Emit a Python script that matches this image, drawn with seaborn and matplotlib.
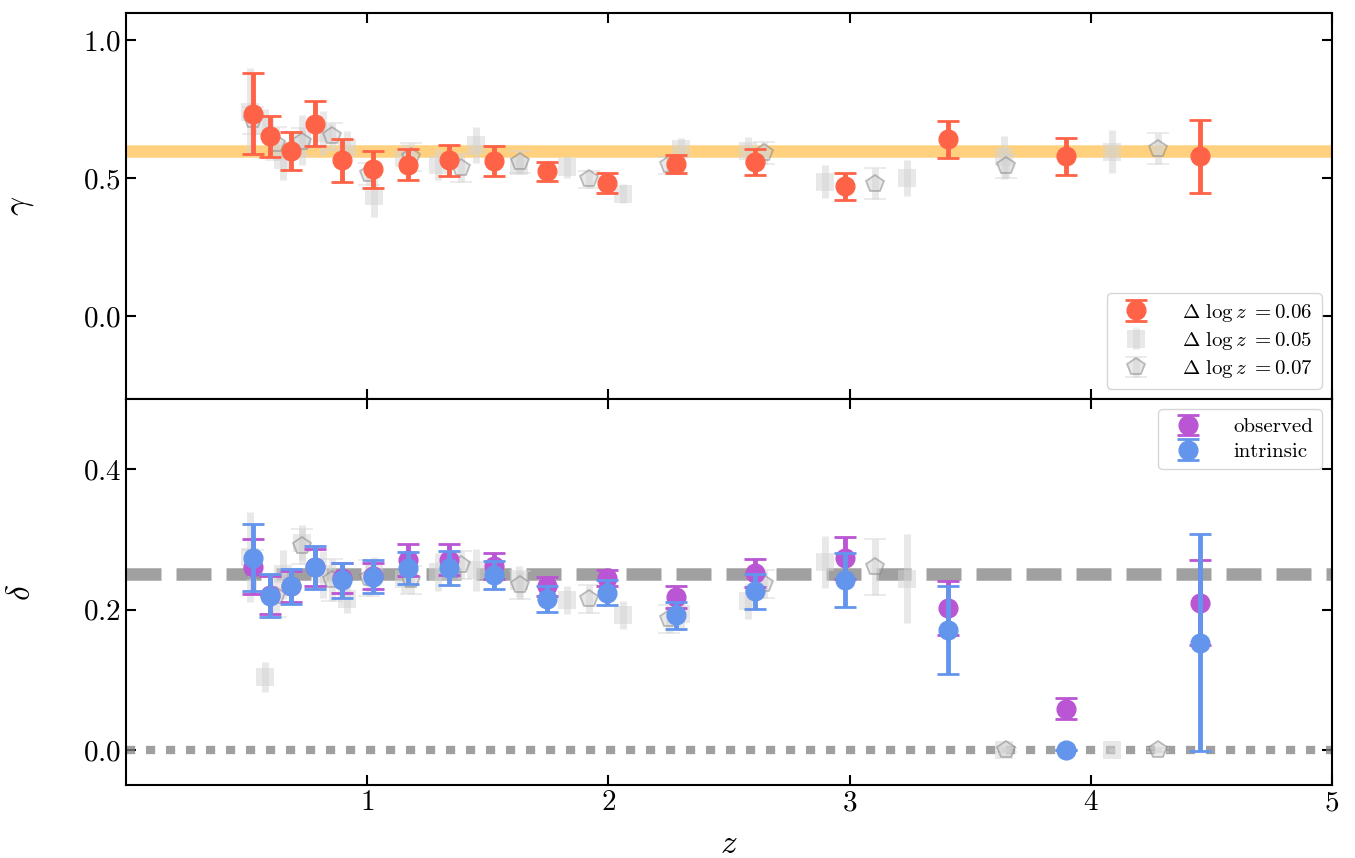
"""
gamma / delta vs redshift, two stacked panels sharing z.
"""
import matplotlib
matplotlib.use("Agg")
import matplotlib.pyplot as plt
import seaborn as sns

# --- Delta log z = 0.06 (main binning) ---
z_06 = [0.526, 0.597, 0.684, 0.783, 0.895, 1.024, 1.169, 1.339, 1.525,
        1.745, 1.993, 2.279, 2.607, 2.980, 3.407, 3.896, 4.451]
gamma_06 = [0.735, 0.652, 0.599, 0.698, 0.565, 0.533, 0.550, 0.565, 0.562,
            0.525, 0.483, 0.551, 0.559, 0.471, 0.641, 0.580, 0.580]
gamma_06_err = [0.148, 0.074, 0.068, 0.082, 0.078, 0.067, 0.055, 0.055, 0.054,
                0.035, 0.037, 0.033, 0.046, 0.050, 0.068, 0.068, 0.133]
delta_obs = [0.261, 0.221, 0.233, 0.260, 0.245, 0.248, 0.271, 0.271, 0.262,
             0.233, 0.245, 0.218, 0.252, 0.273, 0.202, 0.059, 0.210]
delta_obs_err = [0.039, 0.027, 0.022, 0.026, 0.022, 0.018, 0.023, 0.022, 0.018,
                 0.013, 0.011, 0.016, 0.020, 0.030, 0.038, 0.015, 0.060]
delta_int = [0.274, 0.220, 0.233, 0.260, 0.242, 0.247, 0.259, 0.259, 0.249,
             0.215, 0.224, 0.192, 0.226, 0.242, 0.171, 0.0, 0.153]
delta_int_err = [0.048, 0.031, 0.025, 0.030, 0.025, 0.023, 0.023, 0.024, 0.020,
                 0.018, 0.018, 0.019, 0.025, 0.038, 0.063, 0.0, 0.154]

# --- Delta log z = 0.05 (grey squares) ---
z_05 = [0.515, 0.578, 0.649, 0.728, 0.817, 0.916, 1.028, 1.153, 1.294, 1.45,
        1.63, 1.83, 2.06, 2.30, 2.58, 2.90, 3.24, 3.64, 4.09]
gamma_05 = [0.74, 0.69, 0.565, 0.64, 0.665, 0.61, 0.435, 0.575, 0.55, 0.62,
            0.545, 0.54, 0.445, 0.605, 0.60, 0.488, 0.50, 0.577, 0.596]
gamma_05_err = [0.16, 0.06, 0.07, 0.09, 0.08, 0.06, 0.075, 0.05, 0.055, 0.066,
                0.03, 0.04, 0.035, 0.04, 0.05, 0.06, 0.065, 0.078, 0.078]
delta_05 = [0.275, 0.104, 0.25, 0.295, 0.25, 0.215, 0.25, 0.243, 0.254, 0.256,
            0.24, 0.213, 0.192, 0.193, 0.212, 0.268, 0.244, 0.0, 0.0]
delta_05_err = [0.064, 0.022, 0.035, 0.025, 0.034, 0.02, 0.025, 0.02, 0.027, 0.03,
                0.022, 0.02, 0.02, 0.022, 0.026, 0.037, 0.063, 0.003, 0.003]

# --- Delta log z = 0.07 (grey pentagons) ---
z_07 = [0.528, 0.620, 0.729, 0.856, 1.006, 1.180, 1.388, 1.633, 1.919,
        2.250, 2.644, 3.104, 3.647, 4.277]
gamma_07 = [0.71, 0.626, 0.632, 0.652, 0.517, 0.578, 0.538, 0.559, 0.496,
            0.547, 0.592, 0.481, 0.543, 0.607]
gamma_07_err = [0.05, 0.06, 0.05, 0.05, 0.04, 0.05, 0.05, 0.04, 0.03,
                0.03, 0.04, 0.055, 0.04, 0.056]
delta_07 = [0.255, 0.22, 0.29, 0.242, 0.245, 0.242, 0.264, 0.235, 0.215,
            0.186, 0.237, 0.261, 0.0, 0.0]
delta_07_err = [0.03, 0.03, 0.025, 0.03, 0.025, 0.02, 0.02, 0.02, 0.02,
                0.02, 0.02, 0.04, 0.003, 0.003]

GAMMA_REF = 0.6
DELTA_REF = 0.25

LABELS = [r"$\Delta\ \log z\ = 0.06$", r"$\Delta\ \log z\ = 0.05$",
          r"$\Delta\ \log z\ = 0.07$"]

sns.set_theme(style="ticks")
plt.rcParams.update({
    "font.family": "serif",
    "font.serif": ["cmr10", "DejaVu Serif"],
    "mathtext.fontset": "cm",
    "axes.formatter.use_mathtext": True,
    "axes.linewidth": 1.5,
    "axes.edgecolor": "black",
    "text.color": "black",
    "axes.labelcolor": "black",
    "xtick.color": "black", "ytick.color": "black",
    "xtick.direction": "in", "ytick.direction": "in",
    "xtick.top": True, "ytick.right": True,
    "xtick.major.size": 7, "ytick.major.size": 7,
    "xtick.major.width": 1.5, "ytick.major.width": 1.5,
    "xtick.labelsize": 21, "ytick.labelsize": 21,
    "axes.labelsize": 24,
    "legend.fontsize": 15,
})

GREY_KW = dict(color="lightgrey", alpha=0.5, elinewidth=5, capsize=8,
               capthick=2, linestyle="none")


def grey_sets(ax, y05, e05, y07, e07):
    ax.errorbar(z_05, y05, yerr=e05, fmt="s", ms=13, mew=0, zorder=2,
                label=LABELS[1], **GREY_KW)
    ax.errorbar(z_07, y07, yerr=e07, fmt="p", ms=13, mfc="lightgrey",
                mec="grey", mew=1.3, zorder=2, label=LABELS[2], **GREY_KW)


fig, (ax1, ax2) = plt.subplots(2, 1, sharex=True, figsize=(13.55, 8.58), dpi=100)
fig.subplots_adjust(left=0.093, right=0.983, top=0.985, bottom=0.085, hspace=0)

# top panel: gamma
ax1.axhline(GAMMA_REF, color="orange", alpha=0.5, lw=9, zorder=1)
ax1.errorbar(z_06, gamma_06, yerr=gamma_06_err, fmt="o", color="tomato",
             ms=13.5, elinewidth=3.5, capsize=8, capthick=2, zorder=4,
             label=LABELS[0])
grey_sets(ax1, gamma_05, gamma_05_err, gamma_07, gamma_07_err)
ax1.set_ylim(-0.3, 1.1)
ax1.set_yticks([0.0, 0.5, 1.0])
ax1.set_ylabel(r"$\gamma$", labelpad=34)
ax1.legend(loc="lower right", handletextpad=1.2, borderpad=0.4,
           labelspacing=0.3, borderaxespad=0.5)

# bottom panel: delta
ax2.axhline(DELTA_REF, color="grey", alpha=0.75, lw=9, zorder=1,
            linestyle=(0, (2.8, 1.2)))
ax2.axhline(0.0, color="grey", alpha=0.75, lw=6, zorder=1,
            linestyle=(0, (1.1, 1.3)))
grey_sets(ax2, delta_05, delta_05_err, delta_07, delta_07_err)
ax2.errorbar(z_06, delta_obs, yerr=delta_obs_err, fmt="o",
             color="mediumorchid", ms=13.5, elinewidth=3.5, capsize=8,
             capthick=2, zorder=4, label="observed")
ax2.errorbar(z_06, delta_int, yerr=delta_int_err, fmt="o",
             color="cornflowerblue", ms=13.5, elinewidth=3.5, capsize=8,
             capthick=2, zorder=5, label="intrinsic")
ax2.set_ylim(-0.05, 0.5)
ax2.set_yticks([0.0, 0.2, 0.4])
ax2.set_ylabel(r"$\delta$", labelpad=34)
ax2.set_xlabel(r"$z$", labelpad=10)
h, l = ax2.get_legend_handles_labels()
ax2.legend(h[-2:], l[-2:], loc="upper right", handletextpad=1.2,
           borderpad=0.4, labelspacing=0.3, borderaxespad=0.5)

ax2.set_xlim(0, 5)
ax2.set_xticks([1, 2, 3, 4, 5])

fig.savefig("out.png", dpi=100)
